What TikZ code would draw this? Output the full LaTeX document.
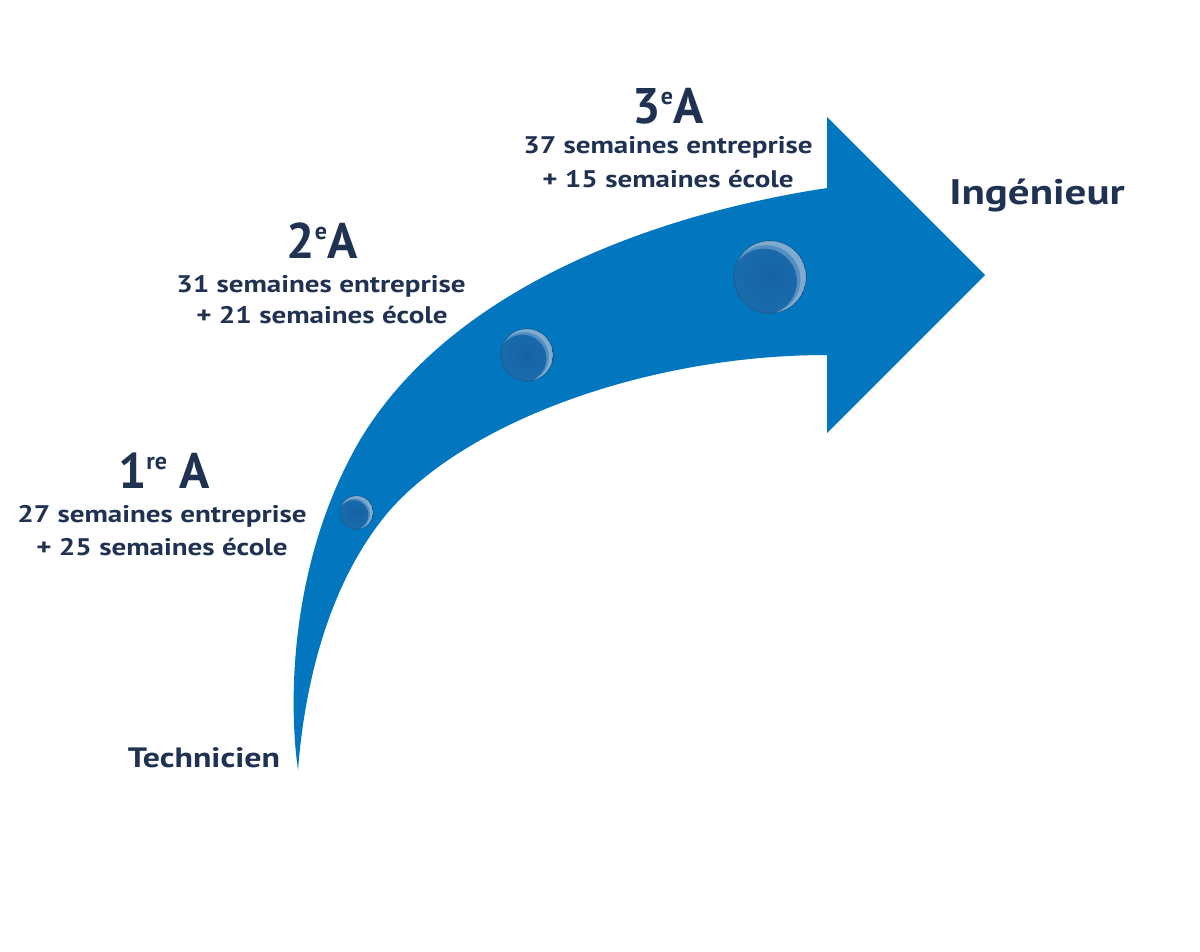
\documentclass[tikz,border=0pt]{standalone}
\usepackage{fontspec}
\setmainfont{PT Sans}
\newfontfamily\widefont{PT Sans}[FakeStretch=1.21]
\definecolor{arrowblue}{HTML}{0277BF}
\definecolor{navy}{HTML}{1F3251}
\definecolor{sphereedge}{HTML}{0E5490}
\definecolor{spherein}{HTML}{1462A2}
\definecolor{sphereout}{HTML}{1B6CAD}
\newcommand\yearsup[1]{\raisebox{19pt}{\fontsize{24}{24}\selectfont #1}}
\tikzset{
  year/.style={text=navy, font=\bfseries\fontsize{50}{50}\selectfont, anchor=base, inner sep=0pt},
  weeks/.style={text=navy, font=\widefont\bfseries\fontsize{24}{24}\selectfont, anchor=base, inner sep=0pt},
  stage/.style={text=navy, font=\widefont\bfseries\fontsize{28}{28}\selectfont, anchor=base, inner sep=0pt},
  sphere/.style={circle, inner sep=0pt, draw=sphereedge, line width=1.2pt, inner color=spherein, outer color=sphereout},
  shine/.style={white, opacity=0.25, even odd rule}
}
\begin{document}
\begin{tikzpicture}[x=1pt,y=-1pt]
\useasboundingbox[fill=white] (0,0) rectangle (1200,951);
% big curved arrow
\fill[arrowblue] (298,770) .. controls (288,700) and (290,560) .. (360,440)
  .. controls (450,290) and (650,215) .. (827,188)
  -- (827,117) -- (985,275) -- (827,433) -- (827,355)
  .. controls (650,355) and (470,420) .. (390,510)
  .. controls (330,580) and (305,680) .. (298,770) -- cycle;
% spheres
\node[sphere, minimum size=33pt] (s1) at (356.5,512.5) {};
\node[sphere, minimum size=52pt] (s2) at (527,355) {};
\node[sphere, minimum size=72pt] (s3) at (770,277) {};
\begin{scope}
  \clip (s1.center) circle (16.5pt);
  \fill[shine] (s1.center) circle (16.5pt) ([shift={(-3,2.5)}]s1.center) circle (15pt);
  \fill[shine] (s1.center) circle (16.5pt) ([shift={(-2,1.5)}]s1.center) circle (15.5pt);
\end{scope}
\begin{scope}
  \clip (s2.center) circle (26pt);
  \fill[shine] (s2.center) circle (26pt) ([shift={(-4.5,3.5)}]s2.center) circle (24pt);
  \fill[shine] (s2.center) circle (26pt) ([shift={(-3,2)}]s2.center) circle (25pt);
\end{scope}
\begin{scope}
  \clip (s3.center) circle (36pt);
  \fill[shine] (s3.center) circle (36pt) ([shift={(-6,4.5)}]s3.center) circle (33pt);
  \fill[shine] (s3.center) circle (36pt) ([shift={(-4,2.5)}]s3.center) circle (34.5pt);
\end{scope}
% labels
\node[year] (y1) at (164,488) {1\yearsup{re} A};
\node[weeks] (w1a) at (162,522) {27 semaines entreprise};
\node[weeks] (w1b) at (162,555) {+ 25 semaines école};
\node[year] (y2) at (322,258) {2\yearsup{e}A};
\node[weeks] (w2a) at (321,292) {31 semaines entreprise};
\node[weeks] (w2b) at (322,323) {+ 21 semaines école};
\node[year] (y3) at (668,123) {3\yearsup{e}A};
\node[weeks] (w3a) at (668,153) {37 semaines entreprise};
\node[weeks] (w3b) at (668,187) {+ 15 semaines école};
\node[stage] (tech) at (204,767) {Technicien};
\node[stage, font=\widefont\bfseries\fontsize{35.5}{35.5}\selectfont] (ing) at (1037,204) {Ingénieur};
\end{tikzpicture}
\end{document}
